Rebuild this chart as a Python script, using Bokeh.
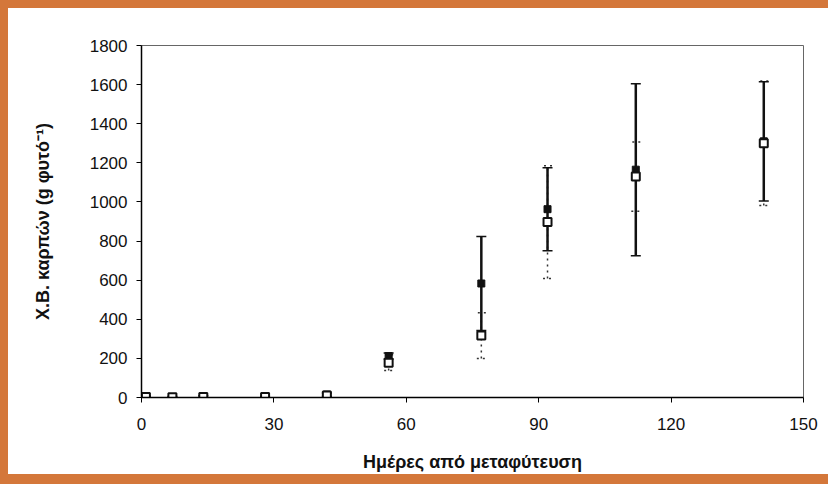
from bokeh.plotting import figure
from bokeh.models import ColumnDataSource, Whisker, TeeHead, Range1d, FixedTicker
from bokeh.embed import file_html
from bokeh.resources import INLINE

days = [1, 7, 14, 28, 42, 56, 77, 92, 112, 141]
filled_vals = [3, 2, 4, 3, 15, 212, 583, 963, 1165, 1310]
filled_err = [5, 3, 5, 4, 8, 15, 240, 212, 440, 305]
open_vals = [2, 1, 2, 2, 10, 178, 317, 897, 1130, 1300]
open_err = [4, 3, 4, 6, 6, 40, 117, 288, 177, 318]
x_ticks = [0, 30, 60, 90, 120, 150]
y_ticks = [0, 200, 400, 600, 800, 1000, 1200, 1400, 1600, 1800]

src_f = ColumnDataSource(dict(x=days, y=filled_vals,
                              lo=[v - e for v, e in zip(filled_vals, filled_err)],
                              hi=[v + e for v, e in zip(filled_vals, filled_err)]))
src_o = ColumnDataSource(dict(x=days, y=open_vals,
                              lo=[v - e for v, e in zip(open_vals, open_err)],
                              hi=[v + e for v, e in zip(open_vals, open_err)]))

FONT = "Liberation Sans Narrow, Liberation Sans, Arial, sans-serif"

p = figure(width=820, height=483, output_backend="svg", toolbar_location=None,
           x_range=Range1d(0, 150), y_range=Range1d(0, 1800),
           min_border_left=133, min_border_right=25, min_border_top=37, min_border_bottom=76)
p.frame_width = 662
p.frame_height = 352

p.grid.visible = False
p.outline_line_color = "#666666"
p.outline_line_width = 1
p.background_fill_color = "white"
p.border_fill_color = "white"
p.styles = {"border-left": "8px solid #d4773a", "border-top": "8px solid #d4773a",
            "border-bottom": "10px solid #d4773a", "box-sizing": "border-box"}

for ax in (p.xaxis[0], p.yaxis[0]):
    ax.axis_line_color = "black"
    ax.axis_line_width = 1.5
    ax.major_tick_in = 0
    ax.major_tick_out = 5
    ax.minor_tick_line_color = None
    ax.major_label_text_font = FONT
    ax.major_label_text_font_size = "17px"
    ax.major_label_text_color = "#111111"
    ax.axis_label_text_font = FONT
    ax.axis_label_text_font_size = "18px"
    ax.axis_label_text_font_style = "bold"
    ax.axis_label_text_color = "#111111"

p.xaxis.ticker = FixedTicker(ticks=x_ticks)
p.yaxis.ticker = FixedTicker(ticks=y_ticks)
p.xaxis.axis_label = "Ημέρες από μεταφύτευση"
p.yaxis.axis_label = "Χ.Β. καρπών (g φυτό⁻¹)"
p.xaxis.major_label_standoff = 15
p.xaxis.axis_label_standoff = 19
p.yaxis.major_label_standoff = 9
p.yaxis.axis_label_standoff = 34

w_o = Whisker(base="x", upper="hi", lower="lo", source=src_o,
              line_color="#333333", line_width=1.5, line_dash="dotted",
              upper_head=TeeHead(size=9, line_color="#333333", line_width=1.5, line_dash="dotted"),
              lower_head=TeeHead(size=9, line_color="#333333", line_width=1.5, line_dash="dotted"))
w_f = Whisker(base="x", upper="hi", lower="lo", source=src_f,
              line_color="#111111", line_width=2.5,
              upper_head=TeeHead(size=10, line_color="#111111", line_width=1.5),
              lower_head=TeeHead(size=10, line_color="#111111", line_width=1.5))
p.add_layout(w_o)
p.add_layout(w_f)

p.scatter("x", "y", source=src_f, marker="square", size=7,
          fill_color="#111111", line_color="#111111")
p.scatter("x", "y", source=src_o, marker="square", size=8,
          fill_color="white", line_color="#111111", line_width=2)

open("out.html", "w").write(file_html(p, INLINE))
